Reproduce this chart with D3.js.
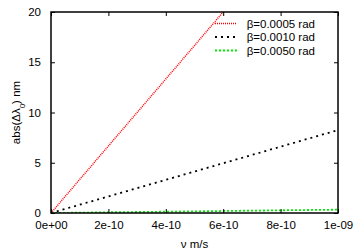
<!DOCTYPE html>
<html>
<head>
<meta charset="utf-8">
<script src="https://cdn.jsdelivr.net/npm/d3@7"></script>
<style>
  body { margin: 0; background: #fff; }
  text { font-family: "Liberation Sans", Arial, sans-serif; font-size: 11.5px; fill: #000; }
</style>
</head>
<body>
<svg id="chart" width="360" height="252"></svg>
<script>
// velocity values (m/s)
const velocities = [0, 2e-10, 4e-10, 6e-10, 8e-10, 1e-9];

// abs(Δλ0) in nm for each beta
const seriesNames = ["β=0.0005 rad", "β=0.0010 rad", "β=0.0050 rad"];
const beta0005 = [0, 6.67, 13.33, 20.0, 26.67, 33.33];
const beta0010 = [0, 1.65, 3.3, 4.95, 6.6, 8.25];
const beta0050 = [0, 0.07, 0.13, 0.2, 0.27, 0.33];

const xTicks = [0, 2e-10, 4e-10, 6e-10, 8e-10, 1e-9];
const xTickLabels = ["0e+00", "2e-10", "4e-10", "6e-10", "8e-10", "1e-09"];
const yTicks = [0, 5, 10, 15, 20];

const colors = ["#ff0000", "#000000", "#00ee00"];
const dashes = ["1,1", "2,4", "2,2"];
const widths = [1.5, 1.8, 1.8];

const margin = {top: 12, right: 22, bottom: 39, left: 51};
const width = 360, height = 252;
const fontStyle = g => g.selectAll("text").style("font-size", "11.5px").style("font-family", "Liberation Sans, Arial, sans-serif");

const svg = d3.select("#chart");

const x = d3.scaleLinear().domain([0, 1e-9]).range([margin.left, width - margin.right]);
const y = d3.scaleLinear().domain([0, 20]).range([height - margin.bottom, margin.top]);

//  clip so the red line stops at the top frame
svg.append("clipPath").attr("id", "plotClip")
    .append("rect")
    .attr("x", margin.left).attr("y", margin.top)
    .attr("width", x.range()[1] - margin.left)
    .attr("height", y.range()[0] - margin.top);

const allSeries = [beta0005, beta0010, beta0050];

const line = d3.line()
    .x((d, i) => x(velocities[i]))
    .y(d => y(d));

svg.append("g")
    .attr("clip-path", "url(#plotClip)")
    .selectAll("path")
    .data(allSeries)
    .join("path")
    .attr("d", d => line(d))
    .attr("fill", "none")
    .attr("stroke", (d, i) => colors[i])
    .attr("stroke-width", (d, i) => widths[i])
    .attr("stroke-dasharray", (d, i) => dashes[i]);

//  axes, ticks inward, mirrored on top and right
const tickLen = 4;
svg.append("g")
    .attr("transform", `translate(0,${y(0)})`)
    .call(d3.axisBottom(x).tickValues(xTicks).tickFormat((d, i) => xTickLabels[i]).tickSize(-tickLen).tickPadding(8))
    .call(g => g.select(".domain").remove())
    .call(fontStyle);

svg.append("g")
    .attr("transform", `translate(0,${y(20)})`)
    .call(d3.axisTop(x).tickValues(xTicks).tickFormat("").tickSize(-tickLen))
    .call(g => g.select(".domain").remove());

svg.append("g")
    .attr("transform", `translate(${x(0)},0)`)
    .call(d3.axisLeft(y).tickValues(yTicks).tickSize(-tickLen).tickPadding(10))
    .call(g => g.select(".domain").remove())
    .call(fontStyle);

svg.append("g")
    .attr("transform", `translate(${x(1e-9)},0)`)
    .call(d3.axisRight(y).tickValues(yTicks).tickFormat("").tickSize(-tickLen))
    .call(g => g.select(".domain").remove());

//  frame
svg.append("rect")
    .attr("x", x(0)).attr("y", y(20))
    .attr("width", x(1e-9) - x(0))
    .attr("height", y(0) - y(20))
    .attr("fill", "none")
    .attr("stroke", "#000")
    .attr("stroke-width", 1.5);

//  axis labels
svg.append("text")
    .attr("x", (x(0) + x(1e-9)) / 2)
    .attr("y", 248)
    .attr("text-anchor", "middle")
    .text("ν m/s");

const yl = svg.append("text")
    .attr("transform", `translate(20,${(y(0) + y(20)) / 2}) rotate(-90)`)
    .attr("text-anchor", "middle");
yl.append("tspan").text("abs(Δλ");
yl.append("tspan").attr("baseline-shift", "sub").style("font-size", "8px").text("0");
yl.append("tspan").text(") nm");

//  legend
const legend = svg.append("g")
    .selectAll("g")
    .data(seriesNames)
    .join("g")
    .attr("transform", (d, i) => `translate(0,${23.5 + i * 13.5})`);

legend.append("line")
    .attr("x1", 215).attr("x2", 237)
    .attr("y1", 0).attr("y2", 0)
    .attr("stroke", d => colors[seriesNames.indexOf(d)])
    .attr("stroke-width", d => widths[seriesNames.indexOf(d)])
    .attr("stroke-dasharray", d => dashes[seriesNames.indexOf(d)]);

legend.append("text")
    .attr("x", 315)
    .attr("y", 4)
    .attr("text-anchor", "end")
    .text(d => d);
</script>
</body>
</html>
